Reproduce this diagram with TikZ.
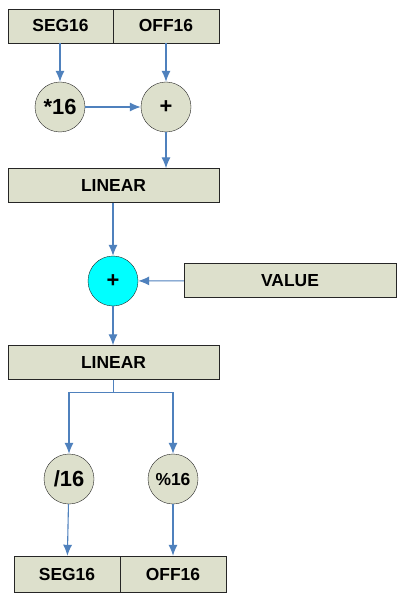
\documentclass[tikz,border=0pt]{standalone}
\usepackage{fontspec}
\setmainfont{Liberation Sans}
\usetikzlibrary{arrows.meta}
\definecolor{boxfill}{RGB}{221,224,204}
\definecolor{wire}{RGB}{79,129,189}
\definecolor{sumfill}{RGB}{0,255,255}

\begin{document}
\begin{tikzpicture}[
  x=1bp,y=-1bp,
  >={Latex[length=11bp,width=9bp]},
  field/.style={rectangle,draw=black!85,fill=boxfill,minimum height=34bp,inner sep=0pt,font=\fontsize{17.5}{20}\selectfont\bfseries},
  op/.style={circle,draw=black!85,fill=boxfill,minimum size=50bp,inner sep=0pt,font=\fontsize{17.5}{20}\selectfont\bfseries},
  bigop/.style={op,font=\fontsize{22}{26}\selectfont\bfseries},
  link/.style={->,draw=wire,line width=1.1bp}
]
\useasboundingbox[fill=white] (0,0) rectangle (407,600);

% input address
\node[field,minimum width=105bp] (seg) at (60.5,26) {SEG16};
\node[field,minimum width=106bp] (off) at (166,26) {OFF16};
\node[bigop] (mul) at (60,107) {*16};
\node[bigop] (add) at (166,107) {+};
\node[field,minimum width=211bp] (lin) at (113.5,185.5) {LINEAR};

% add value
\node[bigop,fill=sumfill] (sum) at (113,281) {+};
\node[field,minimum width=212bp] (val) at (290,280.5) {VALUE};
\node[field,minimum width=211bp] (lin2) at (113.5,362.5) {LINEAR};

% back to seg:off
\node[bigop] (div) at (69,479) {/16};
\node[op] (mod) at (173,479) {\%16};
\node[field,minimum width=106bp,minimum height=36bp] (seg2) at (67,574) {SEG16};
\node[field,minimum width=106bp,minimum height=36bp] (off2) at (173,574) {OFF16};

\draw[link] (mul |- seg.south) -- (mul);
\draw[link] (add |- off.south) -- (add);
\draw[link] (mul) -- (add);
\draw[link] (add) -- (add |- lin.north);
\draw[link] (sum |- lin.south) -- (sum);
\draw[link] (val) -- (sum);
\draw[link] (sum) -- (sum |- lin2.north);
\draw[link] (lin2.south) -- ++(0,13) coordinate (split) -| (div);
\draw[link] (split) -| (mod);
\draw[link] (div) -- (seg2);
\draw[link] (mod) -- (off2);

\end{tikzpicture}
\end{document}
